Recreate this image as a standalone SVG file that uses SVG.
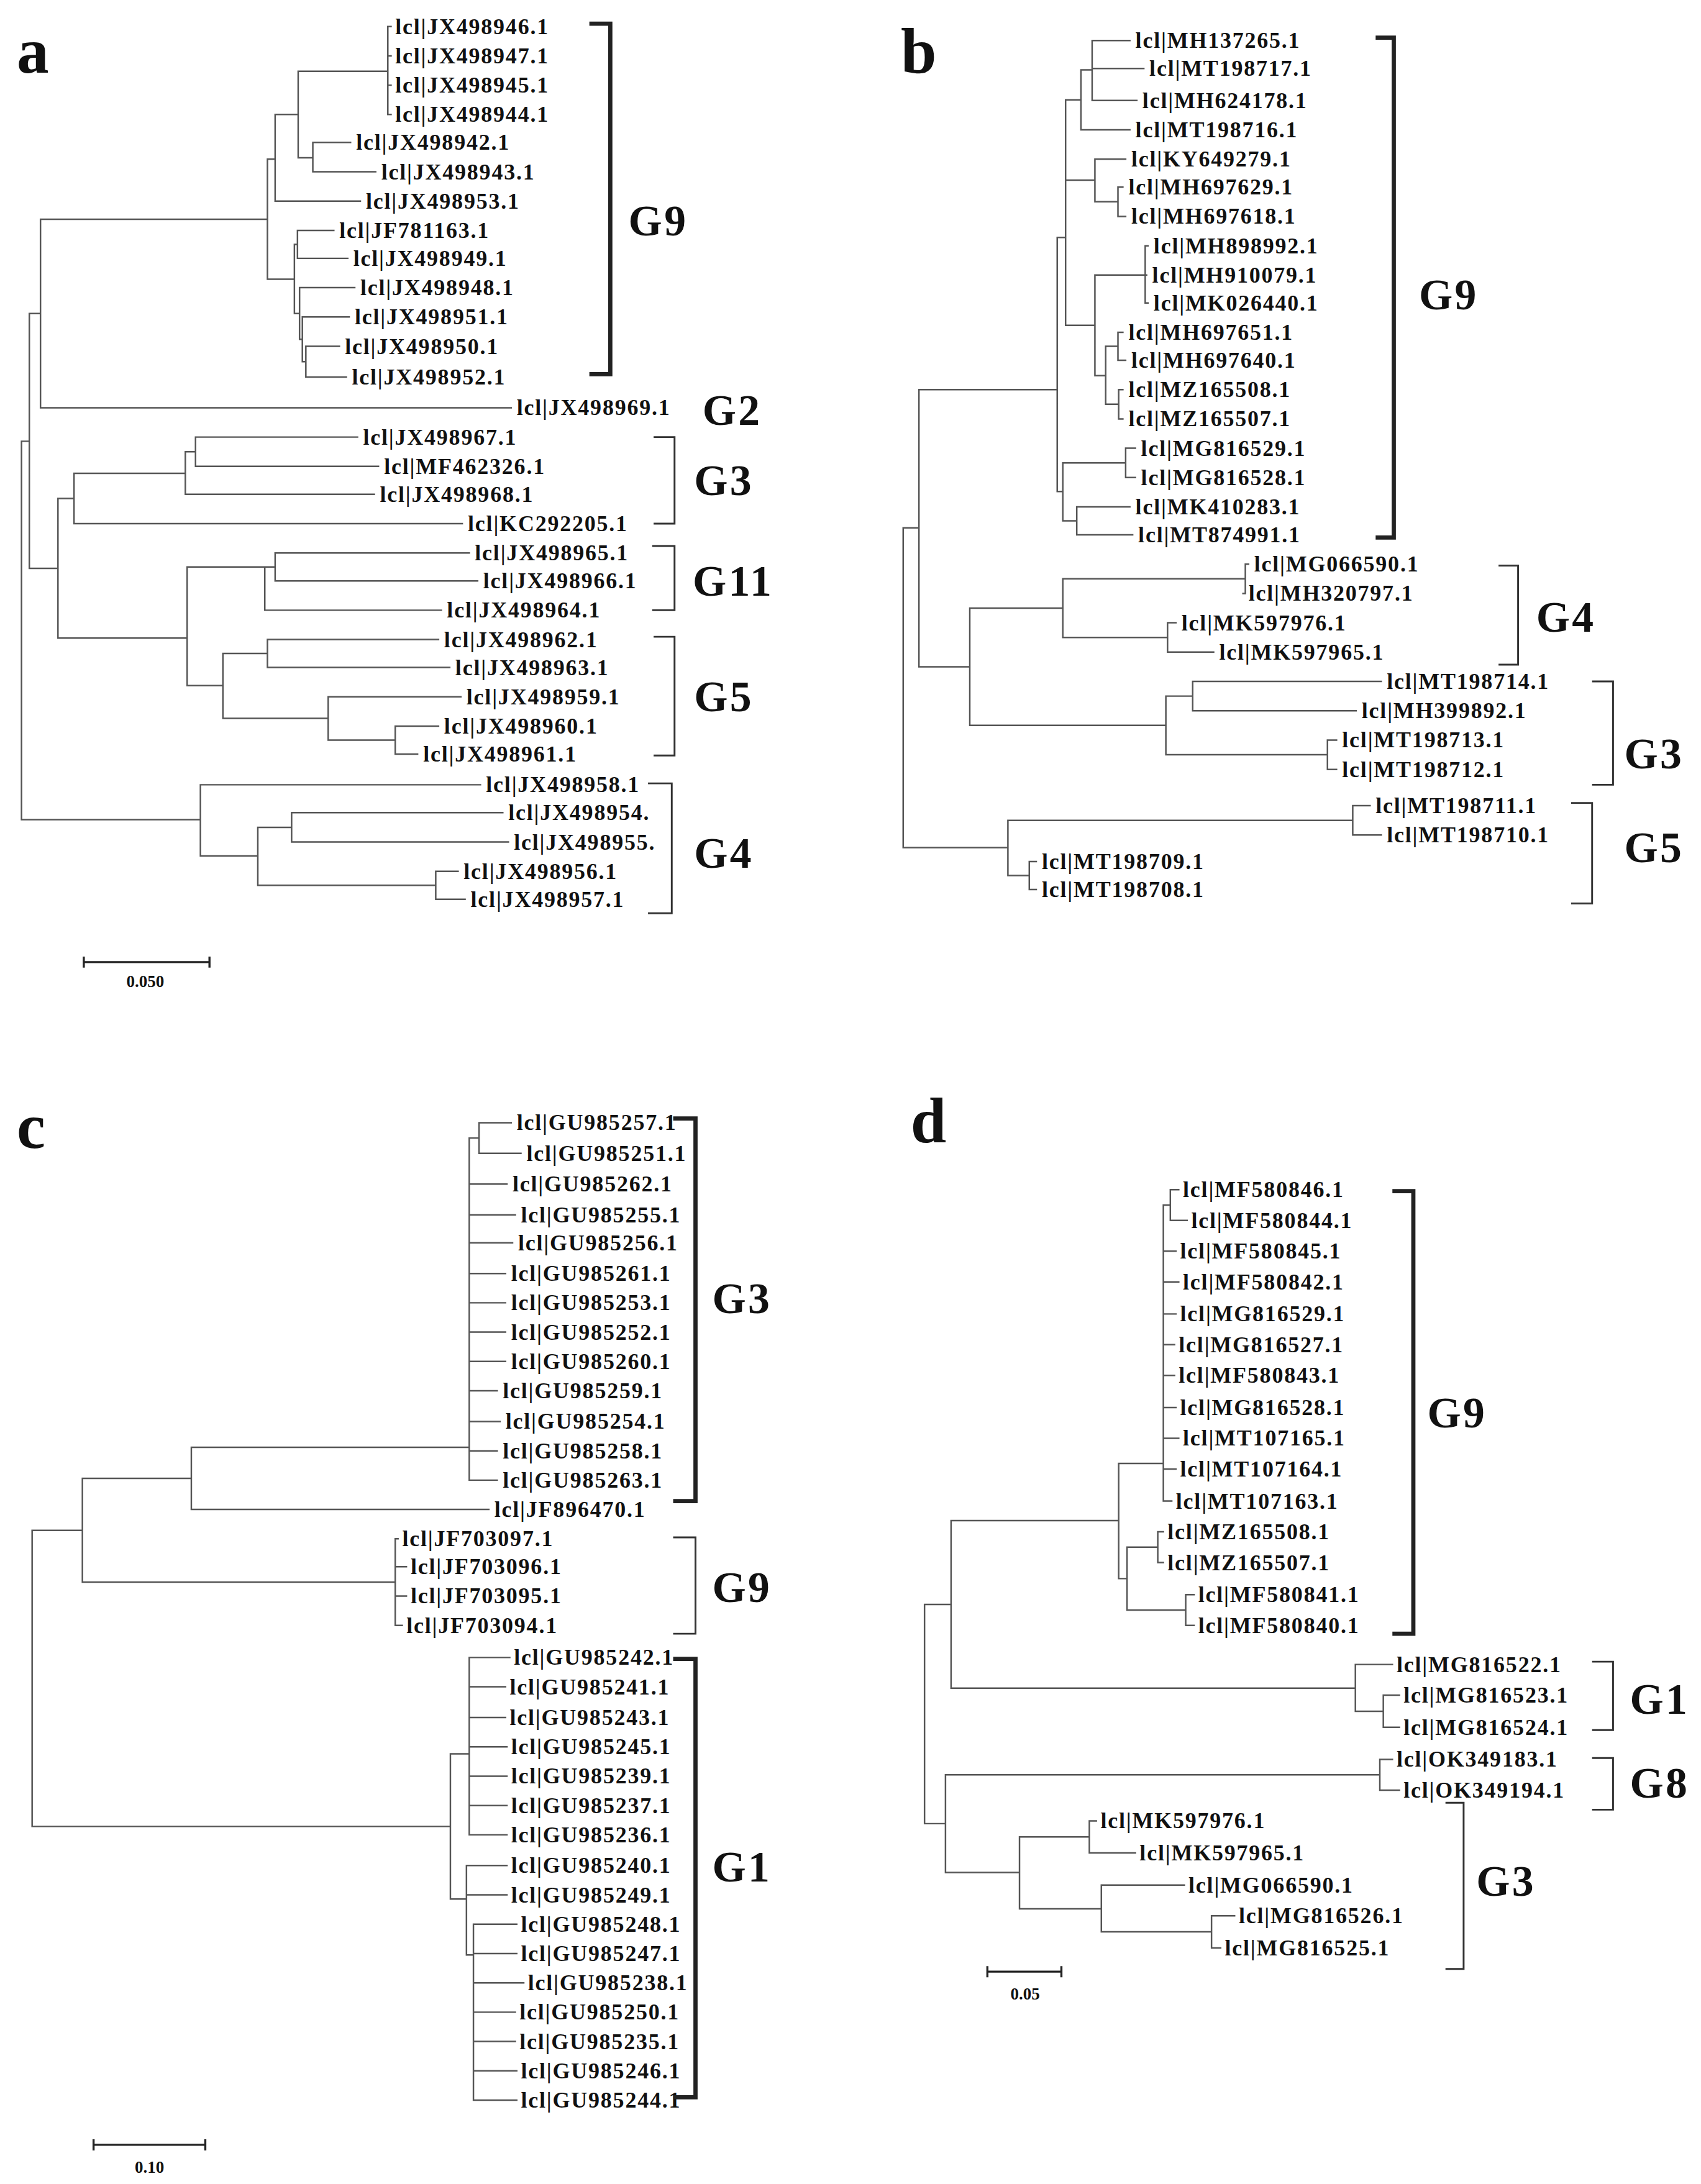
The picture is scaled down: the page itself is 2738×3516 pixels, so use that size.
<svg xmlns="http://www.w3.org/2000/svg" width="2738" height="3516" viewBox="0 0 2738 3516">
<style>
.tr{fill:none;stroke:#555;stroke-width:1.1;stroke-linecap:square}
.bk{fill:none;stroke:#222;stroke-width:3}
.bt{fill:none;stroke:#333;stroke-width:1.3}
.t{font-family:"Liberation Serif",serif;font-weight:bold;font-size:16px;letter-spacing:0.8px;fill:#111;dominant-baseline:central}
.g{font-family:"Liberation Serif",serif;font-weight:bold;font-size:31px;letter-spacing:1.5px;fill:#111;dominant-baseline:central}
.p{font-family:"Liberation Serif",serif;font-weight:bold;font-size:46px;fill:#111}
.s{font-family:"Liberation Serif",serif;font-weight:bold;font-size:12px;fill:#111;text-anchor:middle}
.sb{fill:none;stroke:#222;stroke-width:1.5}
</style>
<rect width="2738" height="3516" fill="#fff"/>
<g transform="scale(2.248)">
<g id="connectors">
<path class="tr" d="M15.4 316V587M15.4 316H21M21 224.5V407M21 224.5H29M21 407H41.5M29 157V292M29 157H191.5M29 292H366
M191.5 114V200M191.5 114H197M197 82V144M197 144H258M197 82H213.5M213.5 51V113M213.5 51H277.7M277.7 19V82M277.7 19H280M277.7 40H280M277.7 61H280M277.7 82H280M213.5 113H224M224 102V123M224 102H251M224 123H269
M191.5 200H210.8M210.8 175V224.5M210.8 175H213M213 165V185M213 165H239M213 185H249M210.8 224.5H214.5M214.5 206V243M214.5 206H254M214.5 243H216.5M216.5 227V259M216.5 227H250M216.5 259H219M219 248V270M219 248H243M219 270H248
M41.5 357V457M41.5 357H53M53 339V375M53 375H331M53 339H132.7M132.7 323.5V354M132.7 354H268M132.7 323.5H140M140 313V334M140 313H256M140 334H271
M41.5 457H134M134 406V491M134 406H189.6M189.6 406V437M189.6 437H316M189.6 406H197M197 396V416M197 396H336M197 416H342
M134 491H159.6M159.6 468V514.5M159.6 468H191.5M191.5 458V478M191.5 458H314M191.5 478H322M159.6 514.5H235M235 499V530M235 499H330M235 530H283M283 520V540M283 520H314M283 540H299
M15.4 587H143.5M143.5 562V613M143.5 562H344M143.5 613H184.6M184.6 592.5V634M184.6 592.5H208.8M208.8 582V603M208.8 582H360M208.8 603H364M184.6 634H312M312 624V644M312 624H328M312 644H333"/>
<path class="tr" d="M646.7 378V607M646.7 607H721.7M721.7 587.5V627M721.7 587.5H968.6M968.6 577V598M968.6 577H981M968.6 598H989M721.7 627H737M737 617V637M737 617H742M737 637H742
M646.7 378H658M658 279V477.5M658 477.5H694.4M694.4 435.5V519.5M694.4 435.5H761M761 414.5V456.5M761 414.5H891.7M891.7 404V425M891.7 404H894M891.7 425H890M761 456.5H836M836 446V467M836 446H842M836 467H869M694.4 519.5H834.8M834.8 498.5V540.5M834.8 498.5H854M854 488V509M854 488H989M854 509H971M834.8 540.5H950.5M950.5 530V551M950.5 530H957M950.5 551H957
M658 279H757M757 170V352M757 170H763M763 71.5V233M763 71.5H774M774 50V93M774 50H782M782 29V72M782 29H809M782 49H819M782 72H814M774 93H809M763 129H784M784 114V144.5M784 114H806M784 144.5H800.5M800.5 134V155M800.5 134H804M800.5 155H806M763 233H784M784 197V269M784 197H820M820 176V217M820 176H822M820 197H821M820 217H822M784 269H791.7M791.7 248V289.5M791.7 248H800.5M800.5 238V258M800.5 238H804M800.5 258H806M791.7 289.5H801M801 279V300M801 279H804M801 300H804
M757 352H761M761 331.5V373M761 331.5H806M806 321V342M806 321H813M806 342H813M761 373H771M771 363V383M771 363H809M771 383H811"/>
<path class="tr" d="M23 1096V1308M23 1096H59M59 1058.75V1133M59 1058.75H137M137 1036.5V1081M137 1036.5H336M137 1081H350M336 815V1060M336 815H343M343 804V826M343 804H366M343 826H373M336 848H363M336 870H369M336 890H367M336 912H362M336 933H362M336 954H362M336 975H362M336 996H356M336 1018H358M336 1039H356M336 1060H356
M59 1133H283M283 1102V1164M283 1102H285M283 1122H291M283 1143H291M283 1164H288
M23 1308H322.5M322.5 1256V1360M322.5 1256H336M336 1187V1314M336 1187H365M336 1208H362M336 1230H362M336 1251H363M336 1272H363M336 1293H363M336 1314H363M322.5 1360H334M334 1336V1400M334 1336H363M334 1357H363M334 1400H339M339 1378V1504M339 1378H370M339 1399H370M339 1420H375M339 1441H369M339 1462H369M339 1483H370M339 1504H370"/>
<path class="tr" d="M662 1149V1306M662 1149H681M681 1089V1209M681 1089H801M801 1048V1130.5M801 1048H833M833 863V1075M833 863H838M838 852V874M838 852H844M838 874H850M833 896H842M833 918H844M833 941H842M833 963H841M833 985H841M833 1008H842M833 1030H844M833 1052H842M833 1075H839
M801 1130.5H807M807 1108V1153M807 1108H829M829 1097V1119M829 1097H833M829 1119H833M807 1153H849M849 1142V1164M849 1142H855M849 1164H855
M681 1209H970.5M970.5 1192V1225.5M970.5 1192H997M970.5 1225.5H990.5M990.5 1214V1237M990.5 1214H1002M990.5 1237H1002
M662 1306H677M677 1271V1341M677 1271H988M988 1260V1282M988 1260H997M988 1282H1002M677 1341H730M730 1315.5V1367M730 1315.5H780M780 1304V1327M780 1304H785M780 1327H813M730 1367H788.6M788.6 1350V1383.5M788.6 1350H848M788.6 1383.5H867.5M867.5 1372V1395M867.5 1372H884M867.5 1395H874"/>
</g>
<g id="panel-a">
<text class="p" x="12" y="52">a</text>
<text class="t" x="283" y="19">lcl|JX498946.1</text>
<text class="t" x="283" y="40">lcl|JX498947.1</text>
<text class="t" x="283" y="61">lcl|JX498945.1</text>
<text class="t" x="283" y="82">lcl|JX498944.1</text>
<text class="t" x="255" y="102">lcl|JX498942.1</text>
<text class="t" x="273" y="123">lcl|JX498943.1</text>
<text class="t" x="262" y="144">lcl|JX498953.1</text>
<text class="t" x="243" y="165">lcl|JF781163.1</text>
<text class="t" x="253" y="185">lcl|JX498949.1</text>
<text class="t" x="258" y="206">lcl|JX498948.1</text>
<text class="t" x="254" y="227">lcl|JX498951.1</text>
<text class="t" x="247" y="248">lcl|JX498950.1</text>
<text class="t" x="252" y="270">lcl|JX498952.1</text>
<text class="t" x="370" y="292">lcl|JX498969.1</text>
<text class="t" x="260" y="313">lcl|JX498967.1</text>
<text class="t" x="275" y="334">lcl|MF462326.1</text>
<text class="t" x="272" y="354">lcl|JX498968.1</text>
<text class="t" x="335" y="375">lcl|KC292205.1</text>
<text class="t" x="340" y="396">lcl|JX498965.1</text>
<text class="t" x="346" y="416">lcl|JX498966.1</text>
<text class="t" x="320" y="437">lcl|JX498964.1</text>
<text class="t" x="318" y="458">lcl|JX498962.1</text>
<text class="t" x="326" y="478">lcl|JX498963.1</text>
<text class="t" x="334" y="499">lcl|JX498959.1</text>
<text class="t" x="318" y="520">lcl|JX498960.1</text>
<text class="t" x="303" y="540">lcl|JX498961.1</text>
<text class="t" x="348" y="562">lcl|JX498958.1</text>
<text class="t" x="364" y="582">lcl|JX498954.</text>
<text class="t" x="368" y="603">lcl|JX498955.</text>
<text class="t" x="332" y="624">lcl|JX498956.1</text>
<text class="t" x="337" y="644">lcl|JX498957.1</text>
<path class="bk" d="M422 17H437V268H422"/>
<path class="bt" d="M468 313H483V375H468M467 391H483V437H467M468 456H483V541H468M464 561H481V654H464"/>
<text class="g" x="450" y="158">G9</text>
<text class="g" x="503" y="294">G2</text>
<text class="g" x="497" y="344">G3</text>
<text class="g" x="496" y="416">G11</text>
<text class="g" x="497" y="499">G5</text>
<text class="g" x="497" y="611">G4</text>
<path class="sb" d="M60 685V693M60 689H150M150 685V693"/>
<text class="s" x="104" y="707">0.050</text>
</g>
<g id="panel-b">
<text class="p" x="645" y="52">b</text>
<text class="t" x="813" y="29">lcl|MH137265.1</text>
<text class="t" x="823" y="49">lcl|MT198717.1</text>
<text class="t" x="818" y="72">lcl|MH624178.1</text>
<text class="t" x="813" y="93">lcl|MT198716.1</text>
<text class="t" x="810" y="114">lcl|KY649279.1</text>
<text class="t" x="808" y="134">lcl|MH697629.1</text>
<text class="t" x="810" y="155">lcl|MH697618.1</text>
<text class="t" x="826" y="176">lcl|MH898992.1</text>
<text class="t" x="825" y="197">lcl|MH910079.1</text>
<text class="t" x="826" y="217">lcl|MK026440.1</text>
<text class="t" x="808" y="238">lcl|MH697651.1</text>
<text class="t" x="810" y="258">lcl|MH697640.1</text>
<text class="t" x="808" y="279">lcl|MZ165508.1</text>
<text class="t" x="808" y="300">lcl|MZ165507.1</text>
<text class="t" x="817" y="321">lcl|MG816529.1</text>
<text class="t" x="817" y="342">lcl|MG816528.1</text>
<text class="t" x="813" y="363">lcl|MK410283.1</text>
<text class="t" x="815" y="383">lcl|MT874991.1</text>
<text class="t" x="898" y="404">lcl|MG066590.1</text>
<text class="t" x="894" y="425">lcl|MH320797.1</text>
<text class="t" x="846" y="446">lcl|MK597976.1</text>
<text class="t" x="873" y="467">lcl|MK597965.1</text>
<text class="t" x="993" y="488">lcl|MT198714.1</text>
<text class="t" x="975" y="509">lcl|MH399892.1</text>
<text class="t" x="961" y="530">lcl|MT198713.1</text>
<text class="t" x="961" y="551">lcl|MT198712.1</text>
<text class="t" x="985" y="577">lcl|MT198711.1</text>
<text class="t" x="993" y="598">lcl|MT198710.1</text>
<text class="t" x="746" y="617">lcl|MT198709.1</text>
<text class="t" x="746" y="637">lcl|MT198708.1</text>
<path class="bk" d="M985 27H998V385H985"/>
<path class="bt" d="M1073 405H1087V476H1073M1140 488H1155V562H1140M1125 575H1140V647H1125"/>
<text class="g" x="1016" y="211">G9</text>
<text class="g" x="1100" y="442">G4</text>
<text class="g" x="1163" y="540">G3</text>
<text class="g" x="1163" y="607">G5</text>
</g>
<g id="panel-c">
<text class="p" x="12" y="822">c</text>
<text class="t" x="370" y="804">lcl|GU985257.1</text>
<text class="t" x="377" y="826">lcl|GU985251.1</text>
<text class="t" x="367" y="848">lcl|GU985262.1</text>
<text class="t" x="373" y="870">lcl|GU985255.1</text>
<text class="t" x="371" y="890">lcl|GU985256.1</text>
<text class="t" x="366" y="912">lcl|GU985261.1</text>
<text class="t" x="366" y="933">lcl|GU985253.1</text>
<text class="t" x="366" y="954">lcl|GU985252.1</text>
<text class="t" x="366" y="975">lcl|GU985260.1</text>
<text class="t" x="360" y="996">lcl|GU985259.1</text>
<text class="t" x="362" y="1018">lcl|GU985254.1</text>
<text class="t" x="360" y="1039">lcl|GU985258.1</text>
<text class="t" x="360" y="1060">lcl|GU985263.1</text>
<text class="t" x="354" y="1081">lcl|JF896470.1</text>
<text class="t" x="288" y="1102">lcl|JF703097.1</text>
<text class="t" x="294" y="1122">lcl|JF703096.1</text>
<text class="t" x="294" y="1143">lcl|JF703095.1</text>
<text class="t" x="291" y="1164">lcl|JF703094.1</text>
<text class="t" x="368" y="1187">lcl|GU985242.1</text>
<text class="t" x="365" y="1208">lcl|GU985241.1</text>
<text class="t" x="365" y="1230">lcl|GU985243.1</text>
<text class="t" x="366" y="1251">lcl|GU985245.1</text>
<text class="t" x="366" y="1272">lcl|GU985239.1</text>
<text class="t" x="366" y="1293">lcl|GU985237.1</text>
<text class="t" x="366" y="1314">lcl|GU985236.1</text>
<text class="t" x="366" y="1336">lcl|GU985240.1</text>
<text class="t" x="366" y="1357">lcl|GU985249.1</text>
<text class="t" x="373" y="1378">lcl|GU985248.1</text>
<text class="t" x="373" y="1399">lcl|GU985247.1</text>
<text class="t" x="378" y="1420">lcl|GU985238.1</text>
<text class="t" x="372" y="1441">lcl|GU985250.1</text>
<text class="t" x="372" y="1462">lcl|GU985235.1</text>
<text class="t" x="373" y="1483">lcl|GU985246.1</text>
<text class="t" x="373" y="1504">lcl|GU985244.1</text>
<path class="bk" d="M482 801H498V1075H482M482 1188H498V1502H482"/>
<path class="bt" d="M482 1101H498V1170H482"/>
<text class="g" x="510" y="930">G3</text>
<text class="g" x="510" y="1137">G9</text>
<text class="g" x="510" y="1337">G1</text>
<path class="sb" d="M67 1532V1540M67 1536H147M147 1532V1540"/>
<text class="s" x="107" y="1556">0.10</text>
</g>
<g id="panel-d">
<text class="p" x="652" y="818">d</text>
<text class="t" x="847" y="852">lcl|MF580846.1</text>
<text class="t" x="853" y="874">lcl|MF580844.1</text>
<text class="t" x="845" y="896">lcl|MF580845.1</text>
<text class="t" x="847" y="918">lcl|MF580842.1</text>
<text class="t" x="845" y="941">lcl|MG816529.1</text>
<text class="t" x="844" y="963">lcl|MG816527.1</text>
<text class="t" x="844" y="985">lcl|MF580843.1</text>
<text class="t" x="845" y="1008">lcl|MG816528.1</text>
<text class="t" x="847" y="1030">lcl|MT107165.1</text>
<text class="t" x="845" y="1052">lcl|MT107164.1</text>
<text class="t" x="842" y="1075">lcl|MT107163.1</text>
<text class="t" x="836" y="1097">lcl|MZ165508.1</text>
<text class="t" x="836" y="1119">lcl|MZ165507.1</text>
<text class="t" x="858" y="1142">lcl|MF580841.1</text>
<text class="t" x="858" y="1164">lcl|MF580840.1</text>
<text class="t" x="1000" y="1192">lcl|MG816522.1</text>
<text class="t" x="1005" y="1214">lcl|MG816523.1</text>
<text class="t" x="1005" y="1237">lcl|MG816524.1</text>
<text class="t" x="1000" y="1260">lcl|OK349183.1</text>
<text class="t" x="1005" y="1282">lcl|OK349194.1</text>
<text class="t" x="788" y="1304">lcl|MK597976.1</text>
<text class="t" x="816" y="1327">lcl|MK597965.1</text>
<text class="t" x="851" y="1350">lcl|MG066590.1</text>
<text class="t" x="887" y="1372">lcl|MG816526.1</text>
<text class="t" x="877" y="1395">lcl|MG816525.1</text>
<path class="bk" d="M997 853H1012V1170H997"/>
<path class="bt" d="M1140 1190H1155V1239H1140M1140 1259H1155V1296H1140M1035 1291H1048V1410H1035"/>
<text class="g" x="1022" y="1012">G9</text>
<text class="g" x="1167" y="1217">G1</text>
<text class="g" x="1167" y="1277">G8</text>
<text class="g" x="1057" y="1347">G3</text>
<path class="sb" d="M707 1408V1416M707 1412H760M760 1408V1416"/>
<text class="s" x="734" y="1432">0.05</text>
</g>
</g>
</svg>
